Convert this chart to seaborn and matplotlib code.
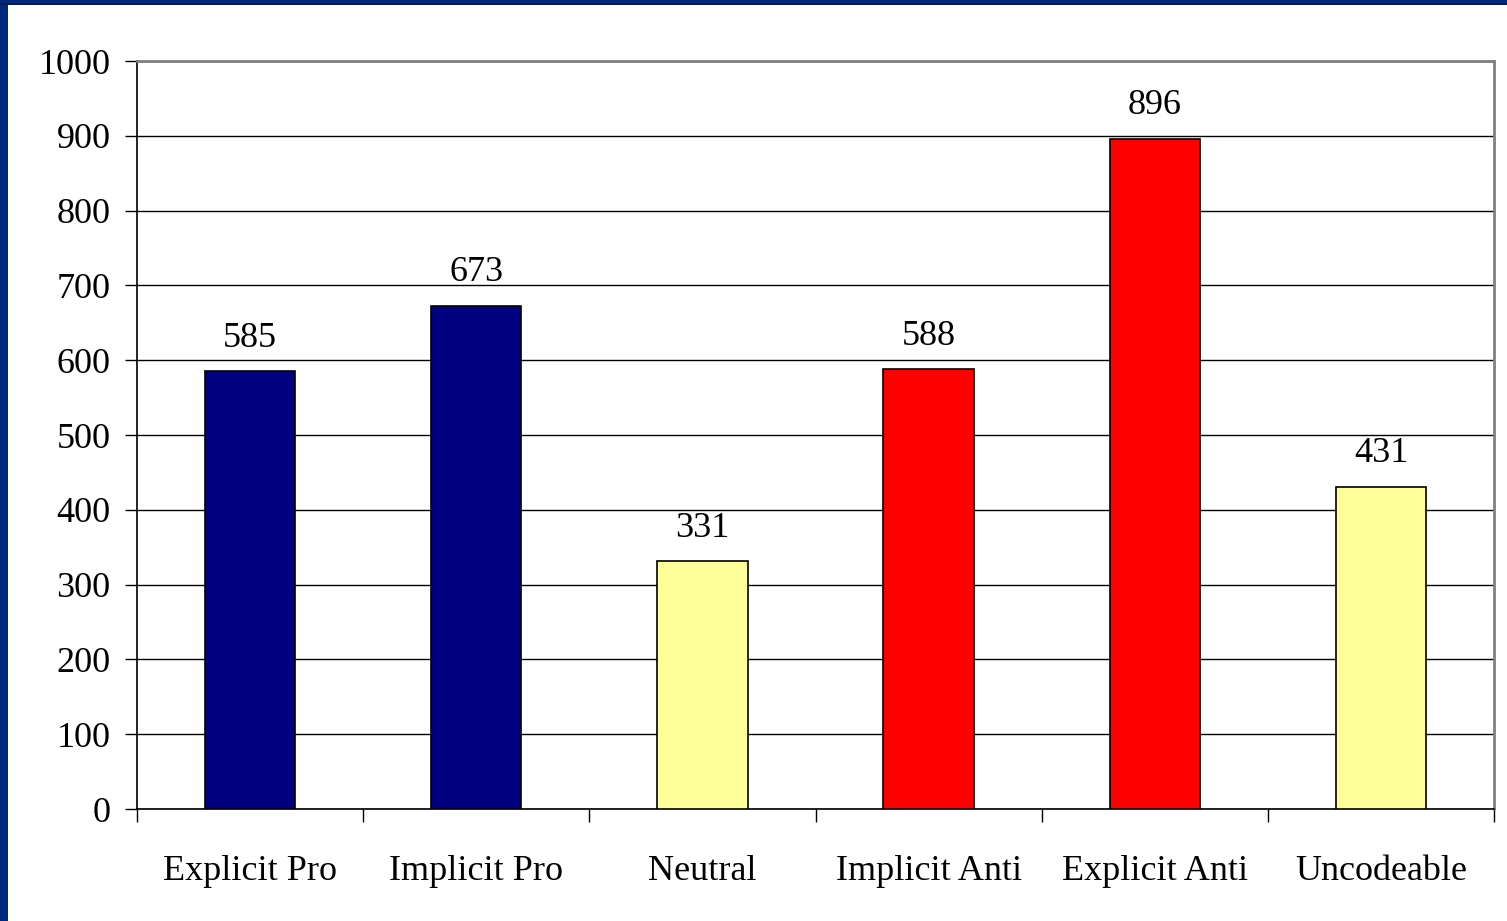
import matplotlib
matplotlib.use("Agg")
import matplotlib.pyplot as plt
import seaborn as sns
import pandas as pd
from matplotlib.patches import Rectangle

categories = ["Explicit Pro", "Implicit Pro", "Neutral", "Implicit Anti", "Explicit Anti", "Uncodeable"]
values = [585, 673, 331, 588, 896, 431]
colors = ["#000080", "#000080", "#FFFF99", "#FF0000", "#FF0000", "#FFFF99"]
yticks = [0, 100, 200, 300, 400, 500, 600, 700, 800, 900, 1000]

sns.set_theme(style="white")
plt.rcParams['font.family'] = ['Liberation Serif', 'DejaVu Serif']
plt.rcParams['text.color'] = 'black'
plt.rcParams['xtick.color'] = 'black'
plt.rcParams['ytick.color'] = 'black'
plt.rcParams['axes.labelcolor'] = 'black'

FS = 26

fig = plt.figure(figsize=(15.07, 9.21), dpi=100)
fig.patch.set_facecolor("#00287F")
fig.add_artist(Rectangle((8/1507, 0), 1, (921-5)/921, transform=fig.transFigure,
                         facecolor="white", edgecolor="none", zorder=0))
fig.add_artist(Rectangle((0, (921-5)/921), 1, 2/921, transform=fig.transFigure,
                         facecolor="#0a1a40", edgecolor="none", zorder=0))

ax = fig.add_axes([137/1507, 112/921, (1494-137)/1507, (809-61)/921])
ax.set_facecolor("white")
df = pd.DataFrame({"cat": categories, "val": values})
sns.barplot(data=df, x="cat", y="val", hue="cat", palette=colors, dodge=False,
            saturation=1, width=0.4, edgecolor="black", linewidth=1.2,
            legend=False, ax=ax, zorder=3)

for c in ax.containers:
    ax.bar_label(c, fmt="%d", padding=12, fontsize=FS, color="black")

ax.set_ylim(0, 1000)
ax.set_xlim(-0.5, len(categories) - 0.5)
ax.set_yticks(yticks)
ax.set_yticklabels([str(v) for v in yticks], fontsize=FS, color="black")
ax.set_xticks(range(len(categories)))
ax.set_xticklabels(categories, fontsize=FS, color="black")
ax.set_xticks([i - 0.5 for i in range(len(categories) + 1)], minor=True)
ax.tick_params(axis="x", which="major", length=0, pad=33, labelcolor="black")
ax.tick_params(axis="x", which="minor", length=9, width=1, color="black", direction="out", bottom=True)
ax.tick_params(axis="y", which="major", length=9, width=1, color="black", direction="out", left=True,
               pad=10, labelcolor="black")
ax.yaxis.grid(True, color="black", linewidth=1)
ax.set_axisbelow(True)
ax.set_xlabel("")
ax.set_ylabel("")
for s in ["left", "bottom"]:
    ax.spines[s].set_color("black")
    ax.spines[s].set_linewidth(1.2)
for s in ["top", "right"]:
    ax.spines[s].set_color("#808080")
    ax.spines[s].set_linewidth(2)

fig.savefig("out.png", dpi=100, facecolor=fig.get_facecolor())
